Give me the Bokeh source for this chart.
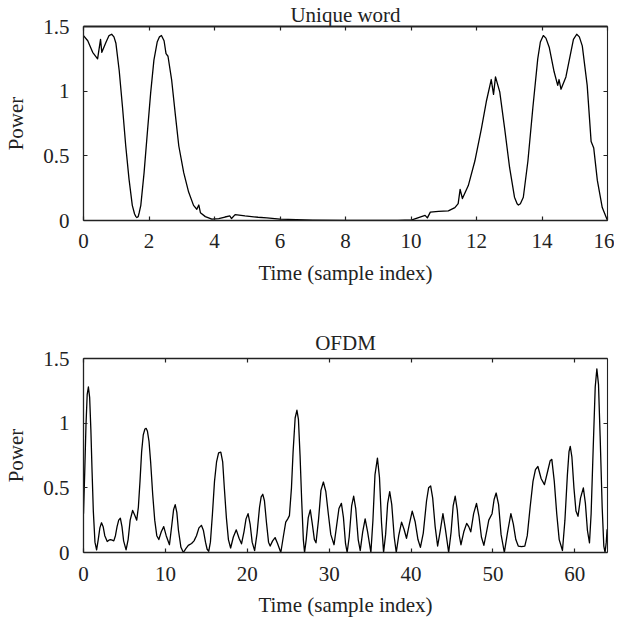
from bokeh.plotting import figure
from bokeh.layouts import column
from bokeh.models import Range1d, LinearAxis, FixedTicker, CustomJSTickFormatter
from bokeh.embed import file_html
from bokeh.resources import INLINE

# ---------------- data ----------------
uw_time = [0, 0.13, 0.28, 0.43, 0.52, 0.56, 0.69, 0.78, 0.86, 0.93, 0.99, 1.09, 1.19, 1.29,
           1.39, 1.49, 1.56, 1.60, 1.63, 1.67, 1.70, 1.75, 1.85, 1.95, 2.05, 2.15, 2.25, 2.32,
           2.38, 2.46, 2.52, 2.58, 2.69, 2.81, 2.91, 3.06, 3.21, 3.36, 3.46, 3.52, 3.57, 3.72,
           3.92, 4.13, 4.32, 4.47, 4.52, 4.63, 4.93, 5.33, 5.6, 6.0, 7.0, 8.0, 9.0, 9.6, 10.03,
           10.43, 10.5, 10.59, 10.84, 11.14, 11.34, 11.44, 11.5, 11.57, 11.75, 11.95, 12.15,
           12.3, 12.45, 12.52, 12.58, 12.71, 12.86, 13.01, 13.16, 13.24, 13.28, 13.34, 13.43,
           13.57, 13.72, 13.87, 13.95, 14.04, 14.12, 14.22, 14.37, 14.48, 14.52, 14.58, 14.73,
           14.88, 14.96, 15.06, 15.14, 15.23, 15.38, 15.5, 15.58, 15.69, 15.84, 15.99]
uw_power = [1.43, 1.39, 1.30, 1.25, 1.40, 1.30, 1.38, 1.43, 1.44, 1.42, 1.37, 1.16, 0.88, 0.576,
            0.32, 0.117, 0.05, 0.03, 0.023, 0.03, 0.06, 0.117, 0.37, 0.68, 0.985, 1.24, 1.38, 1.42,
            1.43, 1.39, 1.29, 1.27, 1.09, 0.805, 0.576, 0.37, 0.22, 0.117, 0.087, 0.12, 0.06, 0.03,
            0.01, 0.015, 0.027, 0.035, 0.015, 0.045, 0.035, 0.025, 0.02, 0.01, 0.003, 0.0, 0.0,
            0.001, 0.005, 0.04, 0.02, 0.065, 0.07, 0.075, 0.10, 0.13, 0.24, 0.17, 0.27, 0.46, 0.71,
            0.92, 1.09, 0.975, 1.11, 0.995, 0.71, 0.41, 0.18, 0.13, 0.12, 0.13, 0.18, 0.46, 0.87,
            1.25, 1.38, 1.43, 1.41, 1.34, 1.15, 1.045, 1.09, 1.015, 1.11, 1.30, 1.40, 1.44, 1.42,
            1.35, 1.045, 0.61, 0.56, 0.31, 0.10, 0.005]

ofdm_time = [0, 0.15, 0.3, 0.45, 0.6, 0.75, 0.9, 1.05, 1.2, 1.4, 1.6, 1.8, 2.0, 2.2, 2.4, 2.6,
             2.9, 3.1, 3.3, 3.5, 3.7, 3.9, 4.1, 4.3, 4.5, 4.7, 4.9, 5.2, 5.45, 5.7, 6.0, 6.25,
             6.5, 6.7, 6.9, 7.1, 7.3, 7.5, 7.65, 7.8, 8.0, 8.2, 8.45, 8.7, 8.95, 9.2, 9.5, 9.8,
             10.1, 10.5, 10.8, 11.0, 11.2, 11.4, 11.6, 11.9, 12.2, 12.5, 12.8, 13.2, 13.5, 13.8,
             14.1, 14.4, 14.65, 14.9, 15.1, 15.3, 15.5, 15.75, 16.0, 16.25, 16.5, 16.77, 17.0,
             17.2, 17.45, 17.7, 17.97, 18.3, 18.66, 19.0, 19.3, 19.6, 19.85, 20.1, 20.35, 20.6,
             20.9, 21.2, 21.5, 21.7, 21.9, 22.1, 22.35, 22.6, 22.8, 23.1, 23.4, 23.7, 24.1,
             24.4, 24.7, 24.95, 25.15, 25.4, 25.6, 25.85, 26.07, 26.25, 26.45, 26.65, 26.85,
             27.0, 27.2, 27.45, 27.7, 27.95, 28.2, 28.4, 28.7, 29.0, 29.3, 29.6, 29.9, 30.2,
             30.6, 30.9, 31.2, 31.5, 31.75, 32.0, 32.2, 32.45, 32.75, 33.0, 33.25, 33.55, 33.8,
             34.1, 34.4, 34.7, 35.1, 35.35, 35.6, 35.9, 36.15, 36.4, 36.65, 36.9, 37.15, 37.4,
             37.65, 37.95, 38.2, 38.5, 38.85, 39.15, 39.45, 39.8, 40.15, 40.5, 40.85, 41.15,
             41.5, 41.9, 42.15, 42.4, 42.65, 42.95, 43.25, 43.55, 43.9, 44.2, 44.6, 44.9, 45.15,
             45.4, 45.65, 45.9, 46.1, 46.45, 46.8, 47.05, 47.3, 47.65, 48.0, 48.3, 48.6, 48.9,
             49.2, 49.5, 49.9, 50.15, 50.4, 50.7, 51.0, 51.4, 51.8, 52.2, 52.5, 52.8, 53.1,
             53.5, 53.9, 54.2, 54.55, 54.9, 55.2, 55.5, 55.9, 56.3, 56.7, 57.0, 57.2, 57.5,
             57.8, 58.1, 58.5, 58.8, 59.1, 59.3, 59.45, 59.65, 59.9, 60.15, 60.4, 60.7, 61.05,
             61.3, 61.55, 61.8, 62.0, 62.25, 62.5, 62.7, 62.9, 63.1, 63.35, 63.55, 63.7, 63.85,
             63.95]
ofdm_power = [0.30, 0.62, 0.98, 1.22, 1.28, 1.2, 0.95, 0.62, 0.32, 0.08, 0.02, 0.1, 0.19, 0.23,
              0.2, 0.13, 0.085, 0.095, 0.1, 0.095, 0.09, 0.13, 0.2, 0.25, 0.265, 0.2, 0.09, 0.02,
              0.1, 0.25, 0.325, 0.29, 0.25, 0.35, 0.55, 0.78, 0.91, 0.955, 0.96, 0.94, 0.86, 0.7,
              0.45, 0.25, 0.13, 0.10, 0.16, 0.2, 0.13, 0.06, 0.22, 0.33, 0.37, 0.31, 0.17, 0.04,
              0.0, 0.03, 0.055, 0.07, 0.09, 0.13, 0.19, 0.21, 0.17, 0.08, 0.025, 0.01, 0.08, 0.3,
              0.55, 0.7, 0.77, 0.776, 0.7, 0.5, 0.27, 0.1, 0.035, 0.12, 0.175, 0.11, 0.067, 0.16,
              0.26, 0.30, 0.22, 0.08, 0.015, 0.15, 0.35, 0.43, 0.45, 0.4, 0.23, 0.08, 0.05, 0.09,
              0.115, 0.07, 0.0, 0.12, 0.235, 0.26, 0.285, 0.5, 0.78, 1.04, 1.10, 1.03, 0.75, 0.4,
              0.1, 0.0, 0.1, 0.27, 0.33, 0.22, 0.1, 0.075, 0.25, 0.48, 0.545, 0.47, 0.3, 0.14,
              0.06, 0.2, 0.34, 0.38, 0.27, 0.07, 0.0, 0.12, 0.36, 0.435, 0.34, 0.1, 0.015, 0.16,
              0.26, 0.16, 0.0, 0.25, 0.6, 0.73, 0.58, 0.23, 0.0, 0.14, 0.38, 0.47, 0.37, 0.12,
              0.0, 0.13, 0.235, 0.18, 0.11, 0.22, 0.32, 0.24, 0.1, 0.04, 0.15, 0.4, 0.5, 0.515,
              0.42, 0.2, 0.05, 0.16, 0.3, 0.18, 0.0, 0.16, 0.36, 0.435, 0.33, 0.13, 0.06, 0.16,
              0.225, 0.2, 0.16, 0.3, 0.38, 0.28, 0.12, 0.055, 0.15, 0.25, 0.3, 0.41, 0.46, 0.37,
              0.14, 0.0, 0.16, 0.30, 0.22, 0.1, 0.05, 0.045, 0.05, 0.13, 0.35, 0.55, 0.64, 0.665,
              0.57, 0.525, 0.63, 0.71, 0.72, 0.55, 0.3, 0.1, 0.015, 0.25, 0.6, 0.78, 0.82, 0.74,
              0.5, 0.32, 0.28, 0.42, 0.5, 0.38, 0.17, 0.075, 0.3, 0.8, 1.28, 1.42, 1.3, 0.9,
              0.35, 0.05, 0.0, 0.08, 0.18]

uw_xticks = [0, 2, 4, 6, 8, 10, 12, 14, 16]
ofdm_xticks = [0, 10, 20, 30, 40, 50, 60]
power_ticks = [0, 0.5, 1, 1.5]

FONT = "Liberation Serif"
FS = "21px"
AX = "#222222"

fmt = CustomJSTickFormatter(code="return tick.toString();")


def style_axis(ax, width=1.3, show_labels=True):
    ax.axis_line_color = AX
    ax.axis_line_width = width
    ax.major_tick_line_color = AX
    ax.major_tick_line_width = 1.2
    ax.major_tick_in = 4
    ax.major_tick_out = 0
    ax.minor_tick_line_color = None
    ax.major_label_text_font = FONT
    ax.major_label_text_color = "#222222"
    ax.axis_label_text_font = FONT
    ax.axis_label_text_font_style = "normal"
    ax.axis_label_text_font_size = FS
    ax.axis_label_text_color = "#222222"
    if show_labels:
        ax.major_label_text_font_size = FS
    else:
        ax.major_label_text_font_size = "0px"
        ax.major_label_standoff = 0


def make_plot(t, pw, xmax, xticks, title, height, w, left, right, top, bottom,
              top_width, title_standoff, xstand, xlabstand):
    p = figure(width=w, height=height, output_backend="svg", toolbar_location=None,
               x_range=Range1d(0, xmax), y_range=Range1d(0, 1.5),
               min_border_left=left, min_border_right=right,
               min_border_top=top, min_border_bottom=bottom,
               x_axis_label="Time (sample index)", y_axis_label="Power",
               title=title)
    p.title.text_font = FONT
    p.title.text_font_size = FS
    p.title.text_font_style = "normal"
    p.title.text_color = "#222222"
    p.title.align = "center"
    p.title.standoff = title_standoff
    p.outline_line_color = None
    p.grid.visible = False
    p.background_fill_color = "white"
    p.border_fill_color = "white"

    p.xaxis.ticker = FixedTicker(ticks=xticks)
    p.yaxis.ticker = FixedTicker(ticks=power_ticks)
    p.yaxis.formatter = fmt
    p.xaxis.formatter = fmt
    for ax in p.xaxis:
        style_axis(ax)
        ax.major_label_standoff = xstand
        ax.axis_label_standoff = xlabstand
    for ax in p.yaxis:
        style_axis(ax)
        ax.major_label_standoff = 14
        ax.axis_label_standoff = 12

    ax_top = LinearAxis(ticker=FixedTicker(ticks=xticks))
    style_axis(ax_top, width=top_width, show_labels=False)
    ax_top.major_label_overrides = {v: "" for v in xticks}
    p.add_layout(ax_top, "above")
    ax_right = LinearAxis(ticker=FixedTicker(ticks=power_ticks))
    style_axis(ax_right, width=1.1, show_labels=False)
    ax_right.major_label_overrides = {v: "" for v in power_ticks}
    p.add_layout(ax_right, "right")

    p.line(t, pw, line_color="black", line_width=1.3, line_join="round")
    return p


p1 = make_plot(uw_time, uw_power, 16, uw_xticks, "Unique word", 300, 614,
               79, 7, 24, 80, 2.0, 0, 13, 10)
p2 = make_plot(ofdm_time, ofdm_power, 64, ofdm_xticks, "OFDM", 320, 614,
               83, 2, 58, 68, 1.3, 8, 14, 9)

layout = column(p1, p2, spacing=0)
open("out.html", "w").write(file_html(layout, INLINE))
